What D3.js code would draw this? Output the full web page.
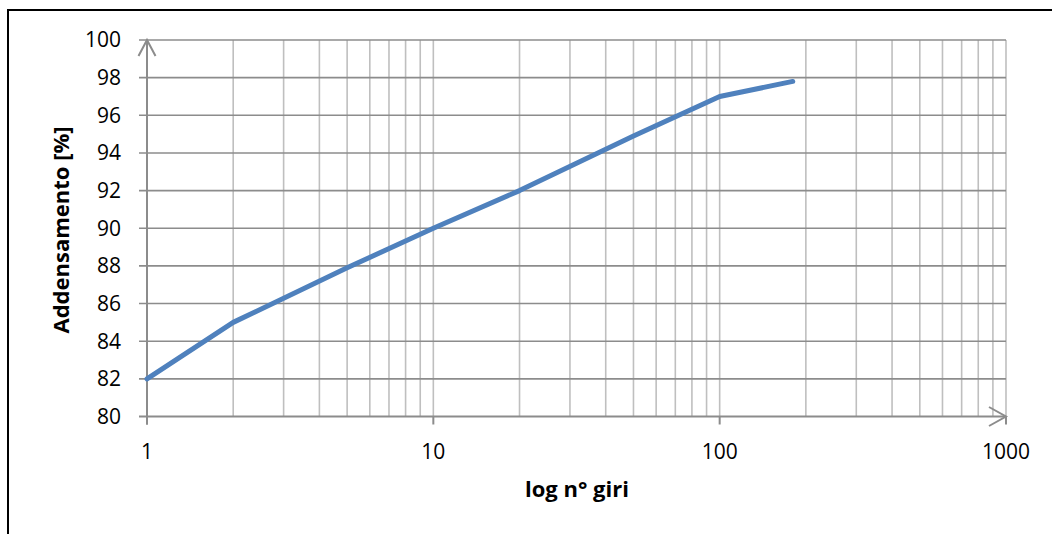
<!DOCTYPE html>
<html><head><meta charset="utf-8">
<script src="https://cdn.jsdelivr.net/npm/d3@7"></script>
<style>
html,body{margin:0;padding:0;background:#fff;}
svg{display:block;}
text{font-family:"Open Sans",sans-serif;fill:#000;}
</style></head>
<body>
<script>
const giri = [1, 2, 5, 10, 20, 50, 100, 180];
const addensamento = [82, 85, 87.9, 90, 92, 94.9, 97, 97.8];
const yTicks = [80, 82, 84, 86, 88, 90, 92, 94, 96, 98, 100];
const xTickLabels = [1, 10, 100, 1000];
const yTitle = "Addensamento [%]";
const xTitle = "log n° giri";

const W = 1052, H = 534;
const svg = d3.select("body").append("svg").attr("width", W).attr("height", H);

// outer frame
svg.append("path").attr("d", `M8,${H+5} L8,10 L${W+5},10`).attr("fill","none").attr("stroke","#000").attr("stroke-width",2);

const x = d3.scaleLog().domain([1, 1000]).range([147, 1006]);
const y = d3.scaleLinear().domain([80, 100]).range([416.5, 40]);

// minor vertical grid
const vGrid = [];
for (let d = 1; d < 1000; d *= 10) for (let k = 1; k < 10; k++) vGrid.push(d * k);
vGrid.push(1000);
svg.append("g").selectAll("line").data(vGrid.filter(v => v > 1)).join("line")
  .attr("x1", d => x(d)).attr("x2", d => x(d))
  .attr("y1", y(100)).attr("y2", y(80))
  .attr("stroke", "#bfbfbf").attr("stroke-width", 1.6);

// horizontal grid (extends left as ticks)
svg.append("g").selectAll("line").data(yTicks.filter(v => v > 80)).join("line")
  .attr("x1", 139).attr("x2", x(1000))
  .attr("y1", d => y(d)).attr("y2", d => y(d))
  .attr("stroke", "#8c8c8c").attr("stroke-width", 1.6);

// axes
const axisCol = "#8c8c8c";
svg.append("line").attr("x1", 139).attr("x2", x(1000)).attr("y1", y(80)).attr("y2", y(80))
  .attr("stroke", axisCol).attr("stroke-width", 2);
svg.append("line").attr("x1", x(1)).attr("x2", x(1)).attr("y1", y(100)).attr("y2", y(80) + 8)
  .attr("stroke", axisCol).attr("stroke-width", 2);
// x major ticks
svg.append("g").selectAll("line").data(xTickLabels).join("line")
  .attr("x1", d => x(d)).attr("x2", d => x(d)).attr("y1", y(80)).attr("y2", y(80) + 8)
  .attr("stroke", axisCol).attr("stroke-width", 2);
// arrows
svg.append("path").attr("d", `M${x(1)-8.5},${y(100)+16} L${x(1)},${y(100)} L${x(1)+8.5},${y(100)+16}`)
  .attr("fill","none").attr("stroke",axisCol).attr("stroke-width",2);
svg.append("path").attr("d", `M${x(1000)-17},${y(80)-9.5} L${x(1000)},${y(80)} L${x(1000)-17},${y(80)+9.5}`)
  .attr("fill","none").attr("stroke",axisCol).attr("stroke-width",2);

// y labels
svg.append("g").selectAll("text").data(yTicks).join("text")
  .attr("x", 121).attr("y", d => y(d)).attr("dy", "0.35em")
  .attr("text-anchor", "end").attr("font-size", 21).text(d => d);
// x labels
svg.append("g").selectAll("text").data(xTickLabels).join("text")
  .attr("x", d => x(d)).attr("y", 459)
  .attr("text-anchor", "middle").attr("font-size", 21).text(d => d);

// titles
svg.append("text").attr("transform", "translate(69,230) rotate(-90)")
  .attr("text-anchor", "middle").attr("font-size", 22).attr("font-weight", "bold").text(yTitle);
svg.append("text").attr("x", 577).attr("y", 497)
  .attr("text-anchor", "middle").attr("font-size", 22).attr("font-weight", "bold").text(xTitle);

// series
const line = d3.line().x((d, i) => x(giri[i])).y(d => y(d));
svg.append("path").datum(addensamento).attr("d", line)
  .attr("fill", "none").attr("stroke", "#4f81bd").attr("stroke-width", 5)
  .attr("stroke-linecap", "round").attr("stroke-linejoin", "round");
</script>
</body></html>
